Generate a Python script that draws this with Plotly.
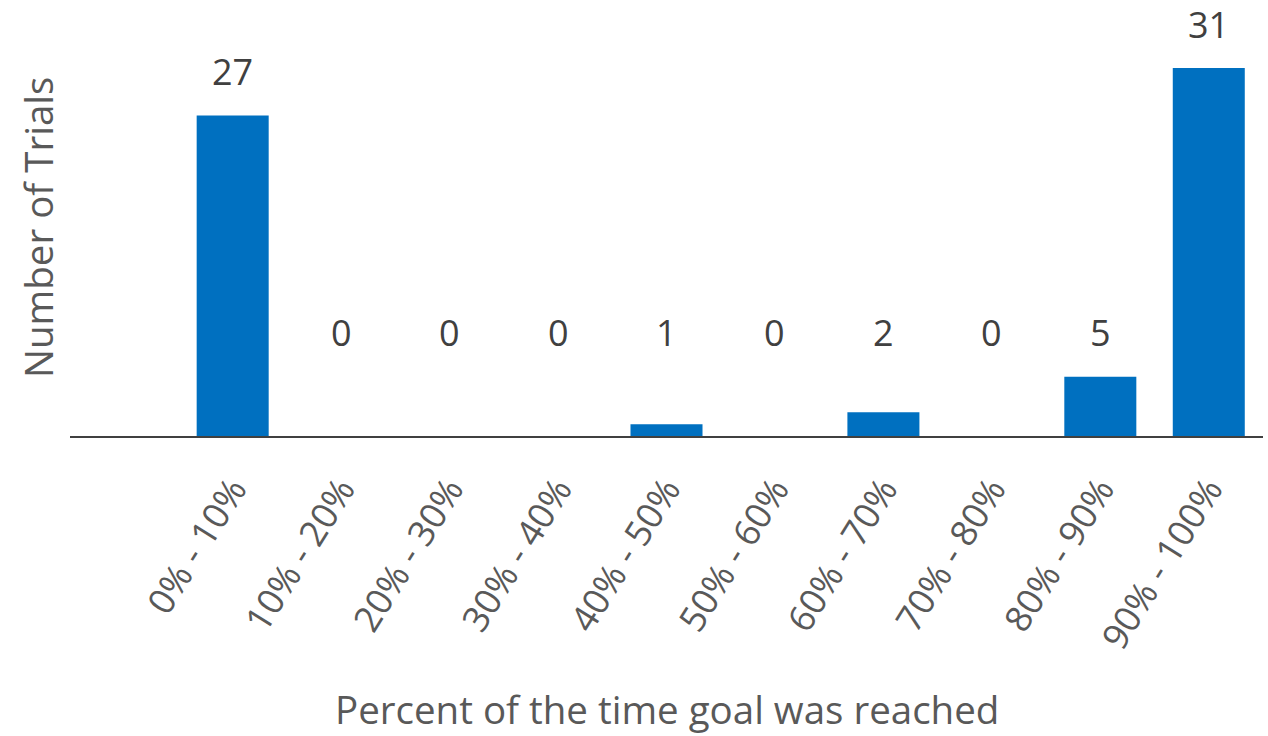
import plotly.graph_objects as go

categories = ["0% - 10%", "10% - 20%", "20% - 30%", "30% - 40%", "40% - 50%",
              "50% - 60%", "60% - 70%", "70% - 80%", "80% - 90%", "90% - 100%"]
trials = [27, 0, 0, 0, 1, 0, 2, 0, 5, 31]

x_title = "Percent of the time goal was reached"
y_title = "Number of Trials"

FONT = "Open Sans"
BAR = "#0070C0"
TXT = "#404040"
TITLE = "#595959"
LABEL_FLOOR = 5

fig = go.Figure()
fig.add_trace(go.Bar(x=categories, y=trials, marker=dict(color=BAR, line=dict(width=0)),
                     hoverinfo="x+y"))

for c, v in zip(categories, trials):
    fig.add_annotation(x=c, y=max(v, LABEL_FLOOR), text=str(v), showarrow=False,
                       yanchor="middle", yshift=44,
                       font=dict(family=FONT, size=36, color=TXT))

fig.add_annotation(xref="paper", yref="paper", x=-32 / 1193, y=0.5, text=y_title,
                   textangle=-90, showarrow=False, xanchor="center", yanchor="middle",
                   font=dict(family=FONT, size=38.5, color=TITLE))
fig.add_annotation(xref="paper", yref="paper", x=0.5, y=-(736 - 436) / 416, text=x_title,
                   showarrow=False, xanchor="center", yanchor="bottom", borderpad=0,
                   font=dict(family=FONT, size=38.5, color=TITLE))

fig.update_layout(
    width=1268, height=736,
    margin=dict(l=70, r=5, t=20, b=300),
    paper_bgcolor="white", plot_bgcolor="white",
    bargap=0.336, showlegend=False,
    font=dict(family=FONT, color=TITLE),
)
fig.update_xaxes(type="category", range=[-1.5, 9.5], showline=True, linecolor="#404040",
                 linewidth=1.5, showgrid=False, zeroline=False, ticks="",
                 tickangle=-58, ticklabelstandoff=16,
                 tickfont=dict(family=FONT, size=36, color=TITLE))
fig.update_yaxes(range=[0, 35.05], showticklabels=False, showgrid=False, zeroline=False,
                 showline=False, ticks="")

fig.write_html("out.html")
